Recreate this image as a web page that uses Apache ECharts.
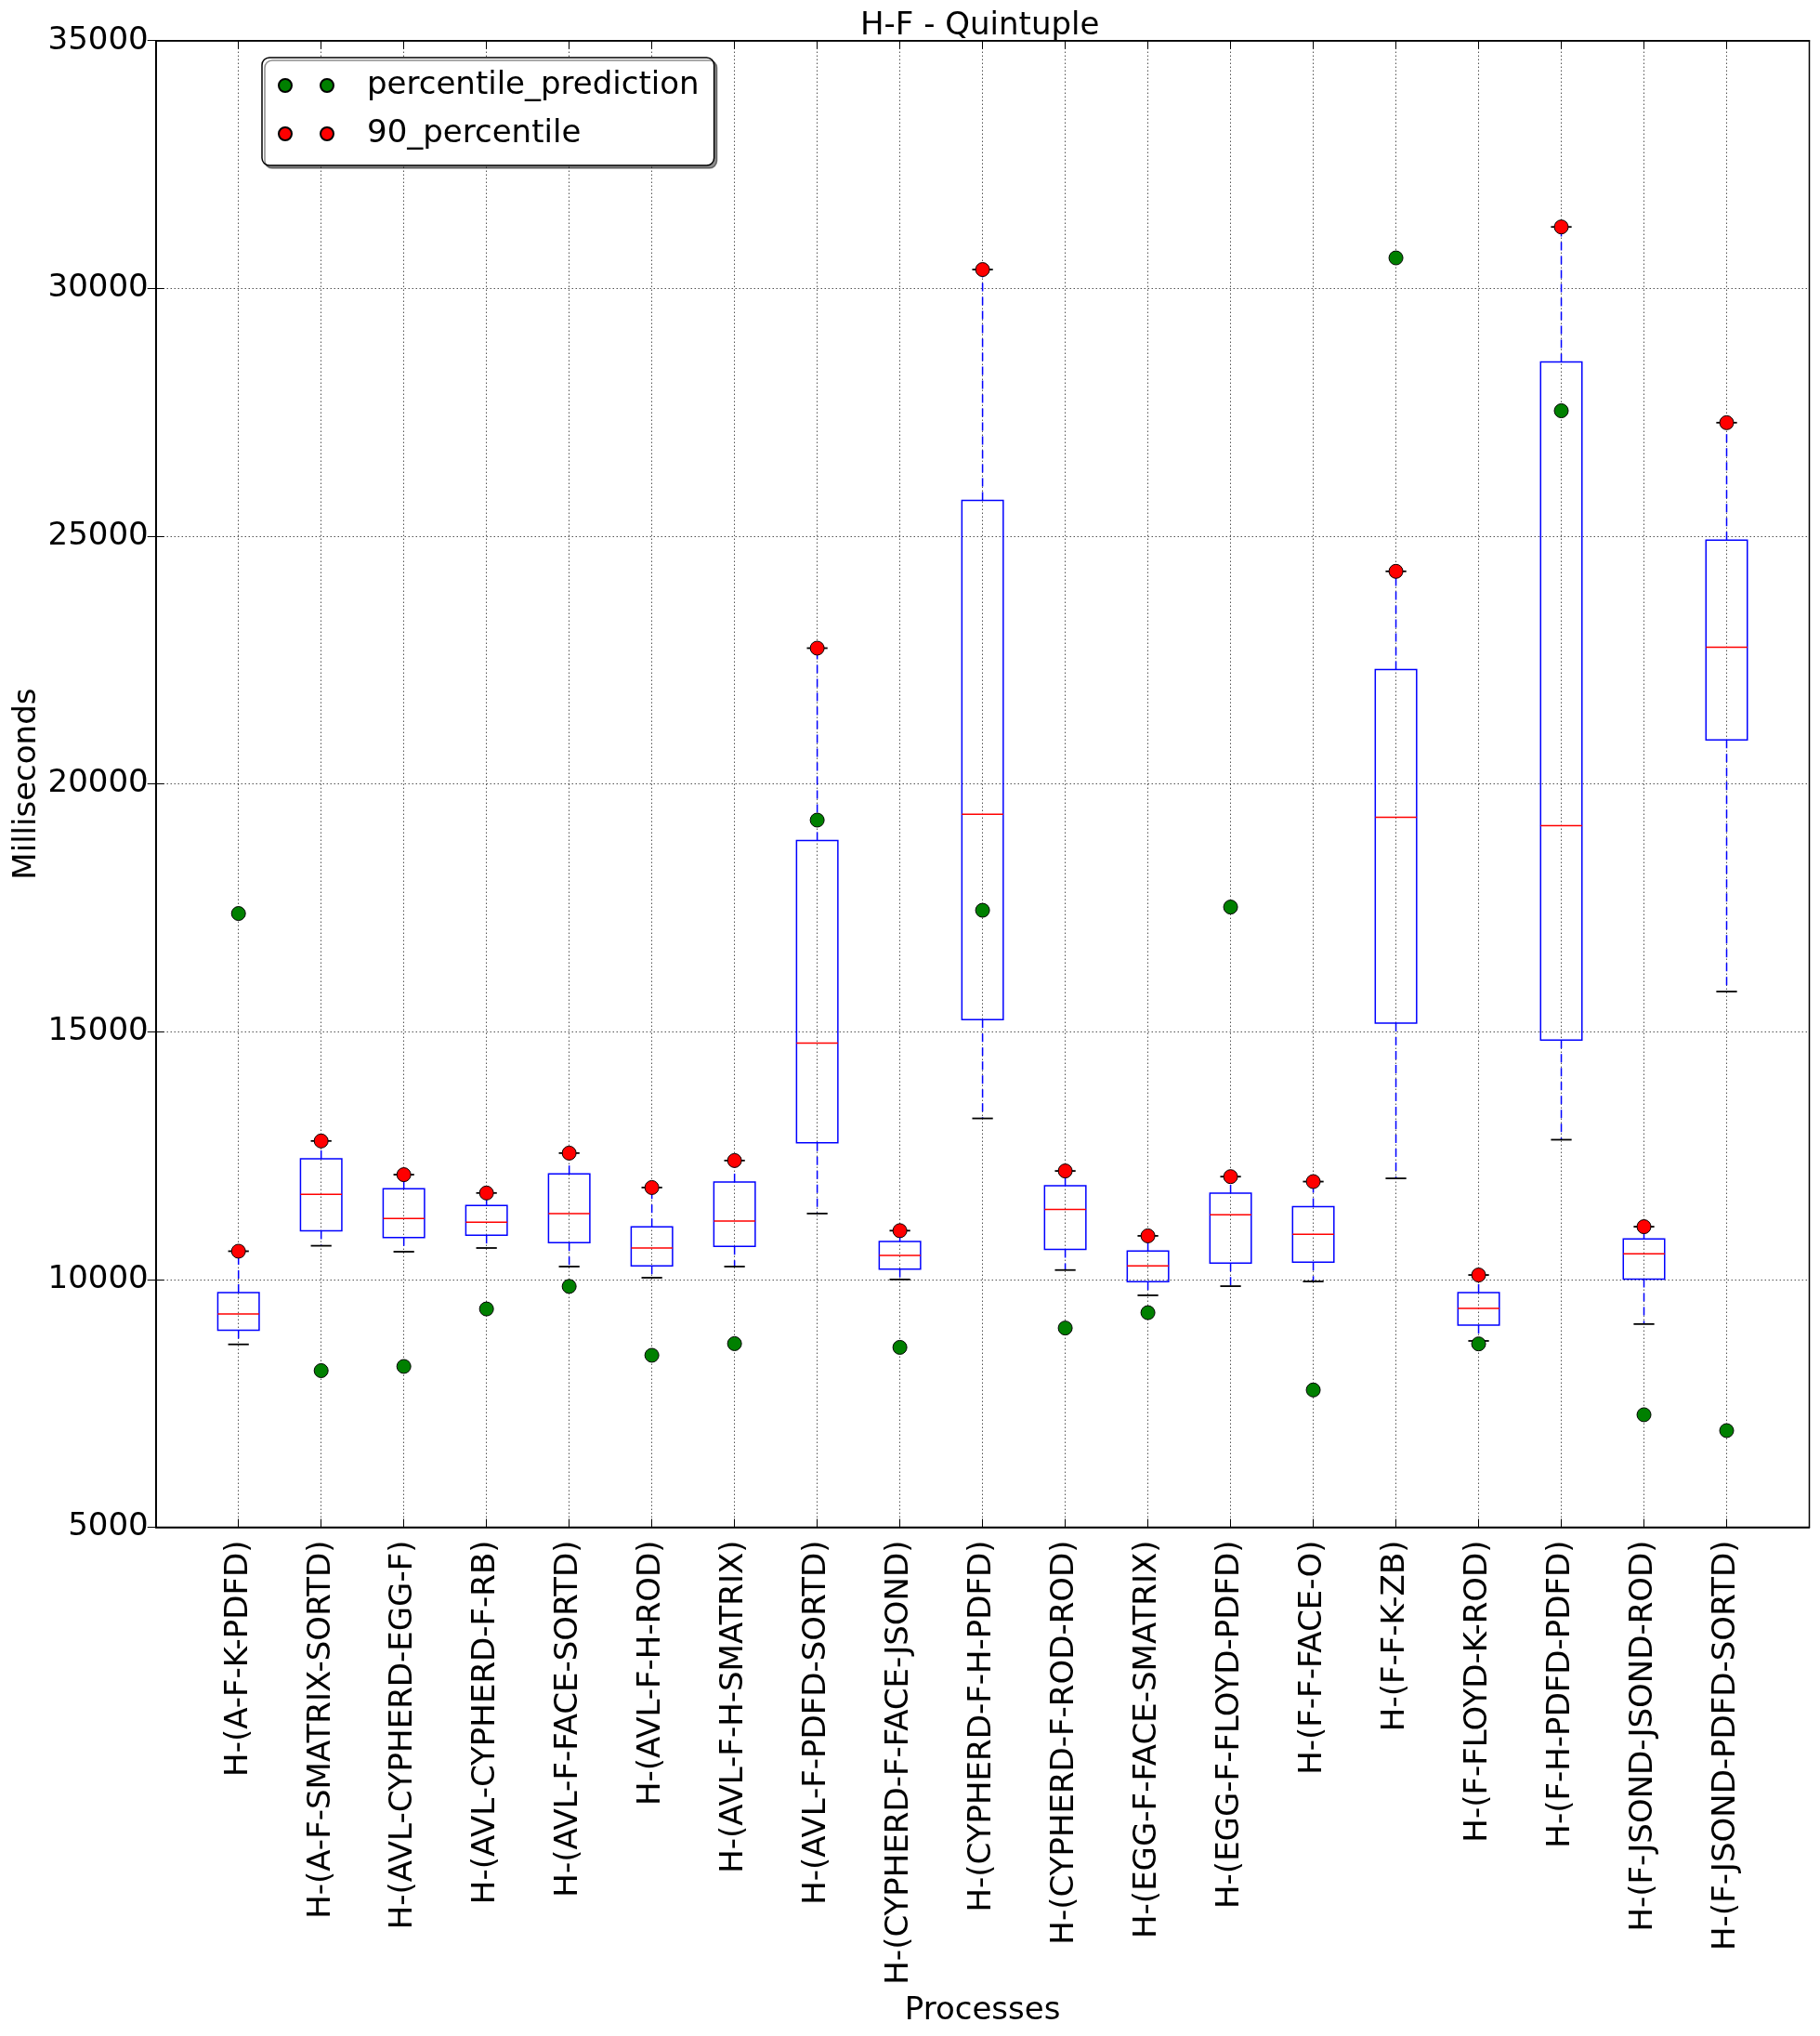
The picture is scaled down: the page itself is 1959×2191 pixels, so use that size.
<!DOCTYPE html>
<html>
<head>
<meta charset="utf-8">
<script src="https://cdn.jsdelivr.net/npm/echarts@6/dist/echarts.min.js"></script>
<style>
  html, body { margin: 0; padding: 0; background: #fff; }
  #chart { width: 1959px; height: 2191px; }
</style>
</head>
<body>
<div id="chart"></div>
<script>
// ---- data ----
var categories = [
  'H-(A-F-K-PDFD)', 'H-(A-F-SMATRIX-SORTD)', 'H-(AVL-CYPHERD-EGG-F)', 'H-(AVL-CYPHERD-F-RB)',
  'H-(AVL-F-FACE-SORTD)', 'H-(AVL-F-H-ROD)', 'H-(AVL-F-H-SMATRIX)', 'H-(AVL-F-PDFD-SORTD)',
  'H-(CYPHERD-F-FACE-JSOND)', 'H-(CYPHERD-F-H-PDFD)', 'H-(CYPHERD-F-ROD-ROD)', 'H-(EGG-F-FACE-SMATRIX)',
  'H-(EGG-F-FLOYD-PDFD)', 'H-(F-F-FACE-O)', 'H-(F-F-K-ZB)', 'H-(F-FLOYD-K-ROD)',
  'H-(F-H-PDFD-PDFD)', 'H-(F-JSOND-JSOND-ROD)', 'H-(F-JSOND-PDFD-SORTD)'
];
var whiskerLow  = [8690, 10680, 10560, 10635, 10260, 10035, 10260, 11330, 10000, 13250, 10190, 9680, 9865, 9960, 12040, 8760, 12820, 9100, 15810];
var q1          = [8975, 10980, 10845, 10895, 10745, 10275, 10670, 12760, 10210, 15245, 10605, 9955, 10330, 10350, 15175, 9080, 14830, 10005, 20890];
var median      = [9305, 11720, 11230, 11155, 11330, 10635, 11180, 14770, 10485, 19390, 11415, 10275, 11305, 10910, 19325, 9415, 19160, 10520, 22760];
var q3          = [9735, 12435, 11830, 11495, 12130, 11060, 11965, 18860, 10765, 25720, 11890, 10575, 11740, 11470, 22310, 9735, 28515, 10820, 24920];
var whiskerHigh = [10570, 12795, 12115, 11745, 12550, 11855, 12400, 22740, 10985, 30380, 12190, 10880, 12075, 11975, 24290, 10090, 31240, 11065, 27290];
var percentile90 = [10570, 12795, 12115, 11745, 12550, 11855, 12400, 22740, 10985, 30380, 12190, 10880, 12075, 11975, 24290, 10090, 31240, 11065, 27290];
var percentilePrediction = [17385, 8160, 8245, 9405, 9860, 8470, 8705, 19270, 8630, 17450, 9020, 9330, 17515, 7770, 30615, 8700, 27530, 7270, 6950];
var yTicks = { min: 5000, max: 35000, interval: 5000 };

// ---- build series data ----
var boxData = categories.map(function (c, i) {
  return [i + 1, whiskerLow[i], q1[i], median[i], q3[i], whiskerHigh[i]];
});
var predData = percentilePrediction.map(function (v, i) { return [i + 1, v]; });
var p90Data = percentile90.map(function (v, i) { return [i + 1, v]; });

var FONT = 'DejaVu Sans';
var chart = echarts.init(document.getElementById('chart'), null, { renderer: 'canvas' });

function renderBox(params, api) {
  var x = api.value(0);
  var lo = api.coord([x, api.value(1)]);
  var b1 = api.coord([x, api.value(2)]);
  var md = api.coord([x, api.value(3)]);
  var b3 = api.coord([x, api.value(4)]);
  var hi = api.coord([x, api.value(5)]);
  var halfBox = api.size([0.5, 0])[0] / 2;
  var halfCap = api.size([0.25, 0])[0] / 2;
  var cx = lo[0];
  var blue = '#0000ff';
  var dashStyle = { stroke: blue, lineWidth: 1.5, lineDash: [9, 6] };
  return {
    type: 'group',
    children: [
      { type: 'line', shape: { x1: cx, y1: b3[1], x2: cx, y2: hi[1] }, style: dashStyle },
      { type: 'line', shape: { x1: cx, y1: b1[1], x2: cx, y2: lo[1] }, style: dashStyle },
      { type: 'line', shape: { x1: cx - halfCap, y1: hi[1], x2: cx + halfCap, y2: hi[1] }, style: { stroke: '#000', lineWidth: 1.8 } },
      { type: 'line', shape: { x1: cx - halfCap, y1: lo[1], x2: cx + halfCap, y2: lo[1] }, style: { stroke: '#000', lineWidth: 1.8 } },
      { type: 'rect', shape: { x: cx - halfBox, y: b3[1], width: halfBox * 2, height: b1[1] - b3[1] },
        style: { fill: 'none', stroke: blue, lineWidth: 1.5 } },
      { type: 'line', shape: { x1: cx - halfBox, y1: md[1], x2: cx + halfBox, y2: md[1] }, style: { stroke: '#ff0000', lineWidth: 1.5 } }
    ]
  };
}

var twoDots = 'path://M0,7a7,7 0 1,0 14,0a7,7 0 1,0 -14,0Z M45,7a7,7 0 1,0 14,0a7,7 0 1,0 -14,0Z';

var option = {
  backgroundColor: '#ffffff',
  animation: false,
  textStyle: { fontFamily: FONT, color: '#000' },
  title: {
    text: 'H-F - Quintuple',
    left: 926,
    top: 11,
    padding: 0,
    textStyle: { fontFamily: FONT, fontSize: 34, fontWeight: 'normal', color: '#000' }
  },
  legend: {
    orient: 'vertical',
    left: 282,
    top: 62,
    padding: [10, 16, 14, 17],
    itemGap: 12,
    itemWidth: 59,
    itemHeight: 14,
    backgroundColor: '#fff',
    borderColor: '#000',
    borderWidth: 1.5,
    borderRadius: 8,
    shadowColor: 'rgba(0,0,0,0.45)',
    shadowOffsetX: 3,
    shadowOffsetY: 3,
    shadowBlur: 0,
    data: [
      { name: 'percentile_prediction', icon: twoDots },
      { name: '90_percentile', icon: twoDots }
    ],
    textStyle: { fontFamily: FONT, fontSize: 34, color: '#000', lineHeight: 40, padding: [0, 0, 0, 31] }
  },
  grid: {
    left: 167.7, right: 11.5, top: 43.7, bottom: 547.5,
    containLabel: false, outerBoundsMode: 'none',
    show: true, borderColor: '#000', borderWidth: 1.5, backgroundColor: 'transparent'
  },
  xAxis: [{
    type: 'value', min: 0, max: 20, interval: 1,
    name: 'Processes', nameLocation: 'middle', nameGap: 504, nameMoveOverlap: false,
    nameTextStyle: { fontFamily: FONT, fontSize: 34, color: '#000' },
    axisLine: { show: true, lineStyle: { color: '#000', width: 1.5 } },
    axisTick: { show: true, inside: true, length: 9, lineStyle: { color: '#000', width: 1 } },
    axisLabel: {
      rotate: 90, margin: 14, fontFamily: FONT, fontSize: 34, color: '#000',
      showMinLabel: true, showMaxLabel: true,
      formatter: function (v) { return (v >= 1 && v <= categories.length) ? categories[v - 1] : ''; }
    },
    splitLine: { show: true, lineStyle: { color: '#000', width: 1, type: [1, 3] } }
  }, {
    type: 'value', min: 0, max: 20, interval: 1, position: 'top',
    axisLine: { show: true, lineStyle: { color: '#000', width: 1.5 } },
    axisTick: { show: true, inside: true, length: 9, lineStyle: { color: '#000', width: 1 } },
    axisLabel: { show: false }, splitLine: { show: false }
  }],
  yAxis: [{
    type: 'value', min: yTicks.min, max: yTicks.max, interval: yTicks.interval,
    name: 'Milliseconds', nameLocation: 'middle', nameGap: 122, nameMoveOverlap: false,
    nameTextStyle: { fontFamily: FONT, fontSize: 34, color: '#000' },
    axisLine: { show: true, lineStyle: { color: '#000', width: 1.5 } },
    axisTick: { show: true, inside: true, length: 9, lineStyle: { color: '#000', width: 1 } },
    axisLabel: { margin: 8, fontFamily: FONT, fontSize: 34, color: '#000',
      formatter: function (v) { return String(v); } },
    splitLine: { show: true, lineStyle: { color: '#000', width: 1, type: [1, 3] } }
  }, {
    type: 'value', min: yTicks.min, max: yTicks.max, interval: yTicks.interval, position: 'right',
    axisLine: { show: true, lineStyle: { color: '#000', width: 1.5 } },
    axisTick: { show: true, inside: true, length: 9, lineStyle: { color: '#000', width: 1 } },
    axisLabel: { show: false }, splitLine: { show: false }
  }],
  series: [
    {
      name: 'boxes', type: 'custom', xAxisIndex: 0, yAxisIndex: 0,
      renderItem: renderBox, data: boxData, z: 2,
      encode: { x: 0, y: [1, 2, 3, 4, 5] }
    },
    {
      name: 'percentile_prediction', type: 'scatter', xAxisIndex: 0, yAxisIndex: 0,
      data: predData, symbol: 'circle', symbolSize: 15, z: 4,
      itemStyle: { color: '#008000', borderColor: '#000', borderWidth: 1, opacity: 1 }
    },
    {
      name: '90_percentile', type: 'scatter', xAxisIndex: 0, yAxisIndex: 0,
      data: p90Data, symbol: 'circle', symbolSize: 15, z: 5,
      itemStyle: { color: '#ff0000', borderColor: '#000', borderWidth: 1, opacity: 1 }
    }
  ]
};
chart.setOption(option);
</script>
</body>
</html>
